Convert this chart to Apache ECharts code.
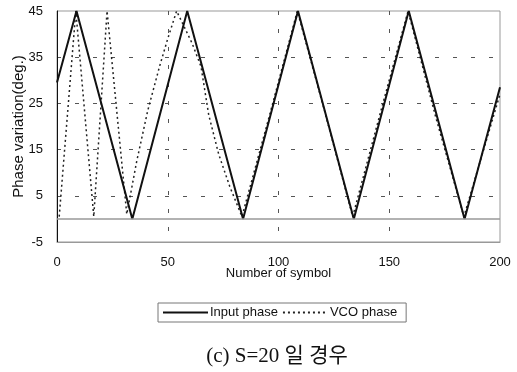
<!DOCTYPE html>
<html>
<head>
<meta charset="utf-8">
<script src="https://cdn.jsdelivr.net/npm/echarts@6/dist/echarts.min.js"></script>
<style>
  html, body { margin: 0; padding: 0; background: #fff; }
  #chart { width: 517px; height: 372px; }
</style>
</head>
<body>
<div id="chart"></div>
<script>
// 입력 위상 (삼각파 꼭짓점)
var inputPhase = [
  [0, 29.5], [8.8, 45], [34, 0], [58.8, 45], [84, 0],
  [108.8, 45], [134, 0], [158.8, 45], [184, 0], [200, 28.5]
];
// VCO 위상 (점선)
var vcoPhase = [
  [1, 0.5], [8.5, 45], [16.6, 0.5], [22.6, 45], [31.5, 1],
  [36, 12.5], [41, 23.5], [46.3, 33], [50, 39], [54, 45],
  [56.6, 42.4], [61, 38], [65, 33], [68.5, 22.5], [73, 14],
  [78, 7], [83.5, 0.5], [96, 22.5], [108.5, 45], [121, 23],
  [133.5, 0.5], [146, 23], [158.5, 45], [171, 22], [183.7, 0.5], [200, 27]
];
var xTicks = [0, 50, 100, 150, 200];
var yTicks = [-5, 5, 15, 25, 35, 45];
var legendNames = ['Input phase', 'VCO phase'];
var caption = '(c) S=20 일 경우';

var myChart = echarts.init(document.getElementById('chart'));
var sansFont = "'Liberation Sans', Arial, sans-serif";
var gridDash = {color: '#555', width: 1, type: [4, 14]};

var option = {
  animation: false,
  backgroundColor: '#fff',
  title: {
    text: caption,
    left: 272,
    textAlign: 'center',
    top: 341,
    textStyle: {
      fontFamily: "'Liberation Serif', 'Noto Sans CJK KR', serif",
      fontSize: 21,
      fontWeight: 'normal',
      color: '#111'
    }
  },
  legend: {
    data: legendNames,
    left: 158,
    top: 303,
    padding: [3, 9, 3, 4],
    itemWidth: 45,
    itemHeight: 12,
    itemGap: 4,
    borderColor: '#777',
    borderWidth: 1,
    itemStyle: {opacity: 0},
    textStyle: {fontFamily: sansFont, fontSize: 13, color: '#111', padding: [0, 0, 0, -3]}
  },
  grid: {
    left: 57,
    right: 17,
    top: 11,
    bottom: 130,
    outerBoundsMode: 'none',
    show: true,
    borderColor: '#999',
    borderWidth: 1
  },
  xAxis: {
    type: 'value',
    min: xTicks[0],
    max: xTicks[xTicks.length - 1],
    interval: 50,
    name: 'Number of symbol',
    nameLocation: 'middle',
    nameGap: 25,
    nameMoveOverlap: false,
    nameTextStyle: {fontFamily: sansFont, fontSize: 13, color: '#111'},
    axisLine: {onZero: false, lineStyle: {color: '#999'}},
    axisTick: {show: false},
    axisLabel: {margin: 14, fontFamily: sansFont, fontSize: 13, color: '#111'},
    splitLine: {show: true, showMinLine: false, showMaxLine: false, lineStyle: gridDash}
  },
  yAxis: {
    type: 'value',
    min: yTicks[0],
    max: yTicks[yTicks.length - 1],
    interval: 10,
    name: 'Phase variation(deg.)',
    nameLocation: 'middle',
    nameGap: 31,
    nameMoveOverlap: false,
    nameTextStyle: {fontFamily: sansFont, fontSize: 15, color: '#111'},
    axisLine: {show: true, onZero: false, lineStyle: {color: '#111'}},
    axisTick: {show: false},
    axisLabel: {margin: 14, fontFamily: sansFont, fontSize: 13, color: '#111'},
    splitLine: {show: true, showMinLine: false, showMaxLine: false, lineStyle: gridDash}
  },
  series: [{
    name: legendNames[0],
    type: 'line',
    data: inputPhase,
    symbol: 'none',
    lineStyle: {color: '#111', width: 2, type: 'solid'},
    itemStyle: {color: '#111'},
    markLine: {
      silent: true,
      symbol: 'none',
      label: {show: false},
      lineStyle: {color: '#999', width: 1.5, type: 'solid'},
      data: [{yAxis: 0}]
    },
    z: 3
  }, {
    name: legendNames[1],
    type: 'line',
    data: vcoPhase,
    symbol: 'none',
    lineStyle: {color: '#222', width: 1.5, type: [2, 3]},
    itemStyle: {color: '#222'},
    z: 2
  }]
};
myChart.setOption(option);
</script>
</body>
</html>
